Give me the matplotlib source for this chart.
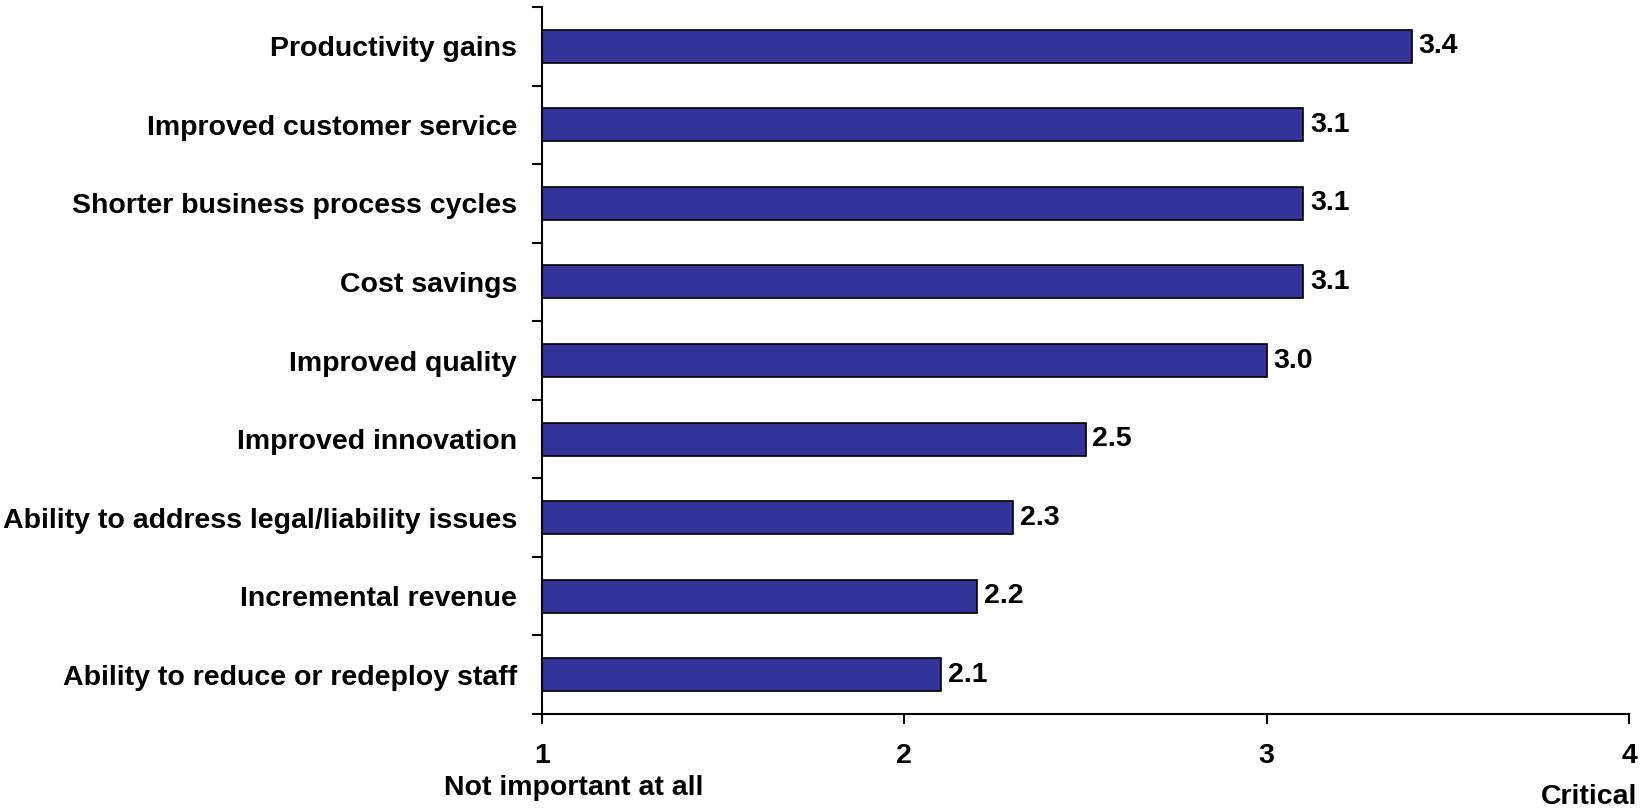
import numpy as np
import matplotlib
matplotlib.use("Agg")
import matplotlib.pyplot as plt

# Benefits ranked by mean importance score (1 = not important, 4 = critical)
categories = [
    "Productivity gains",
    "Improved customer service",
    "Shorter business process cycles",
    "Cost savings",
    "Improved quality",
    "Improved innovation",
    "Ability to address legal/liability issues",
    "Incremental revenue",
    "Ability to reduce or redeploy staff",
]
scores = [3.4, 3.1, 3.1, 3.1, 3.0, 2.5, 2.3, 2.2, 2.1]
x_ticks = [1, 2, 3, 4]

plt.rcParams['font.family'] = ['Liberation Sans', 'DejaVu Sans']
plt.rcParams['font.weight'] = 'bold'
fs = 20.5

fig = plt.figure(figsize=(16.51, 8.08), dpi=100)
ax = fig.add_axes([542 / 1651, 1 - 714 / 808, (1629 - 542) / 1651, (714 - 7) / 808])

y = np.arange(len(categories))
vals = np.array(scores)
ax.barh(y, vals - 1, left=1, height=0.42, color='#333399',
        edgecolor='black', linewidth=1.2)

for yi, v in zip(y, vals):
    ax.annotate(f"{v:.1f}", xy=(v, yi), xytext=(5, 0), textcoords='offset points',
                ha='left', va='center', fontsize=fs, fontweight='bold')

ax.set_xlim(1, 4)
ax.set_ylim(len(categories) - 0.5, -0.5)

ax.set_xticks(x_ticks)
ax.set_xticklabels([str(t) for t in x_ticks], fontsize=fs, fontweight='bold')
ax.tick_params(axis='x', direction='out', length=7, width=1.5, pad=14)

# labels at bar centers, ticks at category boundaries
ax.set_yticks(y)
ax.set_yticklabels(categories, fontsize=fs, fontweight='bold')
ax.tick_params(axis='y', which='major', length=0, pad=18)
ax.set_yticks(np.arange(len(categories) + 1) - 0.5, minor=True)
ax.tick_params(axis='y', which='minor', direction='out', length=7, width=1.5)

for side in ['top', 'right']:
    ax.spines[side].set_visible(False)
for side in ['left', 'bottom']:
    ax.spines[side].set_linewidth(1.5)

fig.text(444 / 1651, 1 - 788 / 808, "Not important at all", ha='left', va='center',
         fontsize=fs, fontweight='bold')
fig.text(1637 / 1651, 1 - 797 / 808, "Critical", ha='right', va='center',
         fontsize=fs, fontweight='bold')

plt.savefig("out.png", dpi=100)
